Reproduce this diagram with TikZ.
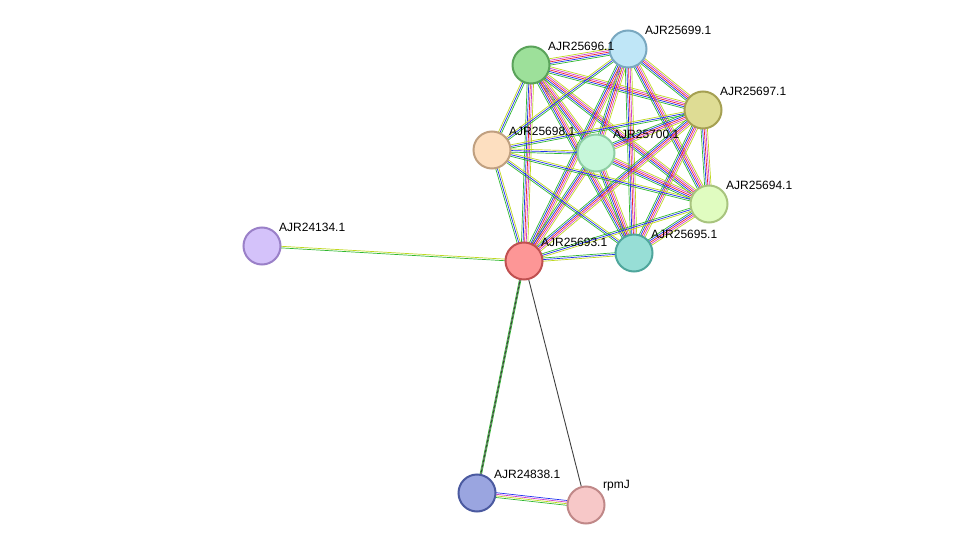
\documentclass[tikz,border=0pt]{standalone}
\usepackage{fontspec}
\setmainfont{Liberation Sans}
\usetikzlibrary{calc}
\pgfdeclarelayer{bg}\pgfsetlayers{bg,main}
\definecolor{sgreen}{HTML}{30B830}
\definecolor{sblue}{HTML}{2030F0}
\definecolor{sred}{HTML}{F02030}
\definecolor{smag}{HTML}{D040D0}
\definecolor{syel}{HTML}{C0D820}
\definecolor{sblack}{HTML}{404040}
\definecolor{f96}{HTML}{9DE09A}\definecolor{d96}{HTML}{5AA35A}
\definecolor{f99}{HTML}{BFE6F7}\definecolor{d99}{HTML}{79A8C0}
\definecolor{f97}{HTML}{DEDC94}\definecolor{d97}{HTML}{A5A052}
\definecolor{f98}{HTML}{FDDFC0}\definecolor{d98}{HTML}{C0A080}
\definecolor{f00}{HTML}{C6F7DA}\definecolor{d00}{HTML}{8ECFA3}
\definecolor{f94}{HTML}{E0FCC0}\definecolor{d94}{HTML}{A8C47E}
\definecolor{f93}{HTML}{FD9696}\definecolor{d93}{HTML}{C05050}
\definecolor{f95}{HTML}{97DED6}\definecolor{d95}{HTML}{4FA69C}
\definecolor{f34}{HTML}{D4C2FA}\definecolor{d34}{HTML}{9A80C8}
\definecolor{f38}{HTML}{9AA5E0}\definecolor{d38}{HTML}{4B5AA0}
\definecolor{frp}{HTML}{F7C8C8}\definecolor{drp}{HTML}{C08888}
\newcommand\sedge[4]{\foreach \c [count=\i] in {#4}{%
  \pgfmathsetmacro\off{(\i-(#3+1)/2)*1.6}%
  \draw[\c,line width=0.7pt] ($(#1.center)!\off pt!90:(#2.center)$) -- ($(#2.center)!\off pt!-90:(#1.center)$);}}
\tikzset{prot/.style={circle,minimum size=37,inner sep=0,line width=2pt,fill=f#1,draw=d#1},
  lab/.style={font=\fontsize{12}{14}\selectfont,anchor=south west,inner sep=1pt}}
\begin{document}
\begin{tikzpicture}[x=1pt,y=-1pt]
\useasboundingbox (0,0) rectangle (975,551);
\node[prot=96] (n96) at (531,65) {};
\node[prot=99] (n99) at (628,49) {};
\node[prot=97] (n97) at (703,110) {};
\node[prot=98] (n98) at (492,150) {};
\node[prot=00] (n00) at (596,153) {};
\node[prot=94] (n94) at (709,204) {};
\node[prot=93] (n93) at (524,261) {};
\node[prot=95] (n95) at (634,253) {};
\node[prot=34] (n34) at (262,246) {};
\node[prot=38] (n38) at (477,493) {};
\node[prot=rp] (nrp) at (586,505) {};
\begin{pgfonlayer}{bg}
\foreach \a/\b in {n96/n99,n96/n97,n96/n00,n96/n94,n96/n95,n99/n97,n99/n00,n99/n94,n99/n95,n97/n00,n97/n94,n97/n95,n00/n94,n00/n95,n94/n95,n96/n93,n99/n93,n97/n93,n00/n93}
  {\sedge{\a}{\b}{5}{sgreen,sblue,sred,smag,syel}}
\foreach \a/\b in {n98/n96,n98/n99,n98/n97,n98/n00,n98/n94,n98/n95,n98/n93,n94/n93,n95/n93}
  {\sedge{\a}{\b}{3}{sgreen,sblue,syel}}
\sedge{n34}{n93}{2}{sgreen,syel}
\sedge{n93}{n38}{2}{sgreen,sgreen}
\draw[sblack,line width=0.9pt] (n93) -- (n38);
\draw[sblack,line width=0.9pt] (n93) -- (nrp);
\sedge{n38}{nrp}{4}{sgreen,syel,smag,sblue}
\end{pgfonlayer}
\foreach \n/\t in {n96/AJR25696.1,n99/AJR25699.1,n97/AJR25697.1,n98/AJR25698.1,n00/AJR25700.1,n94/AJR25694.1,n93/AJR25693.1,n95/AJR25695.1,n34/AJR24134.1,n38/AJR24838.1,nrp/rpmJ}
  \node[lab] (l\n) at ($(\n.center)+(16,-13)$) {\t};
\end{tikzpicture}
\end{document}
